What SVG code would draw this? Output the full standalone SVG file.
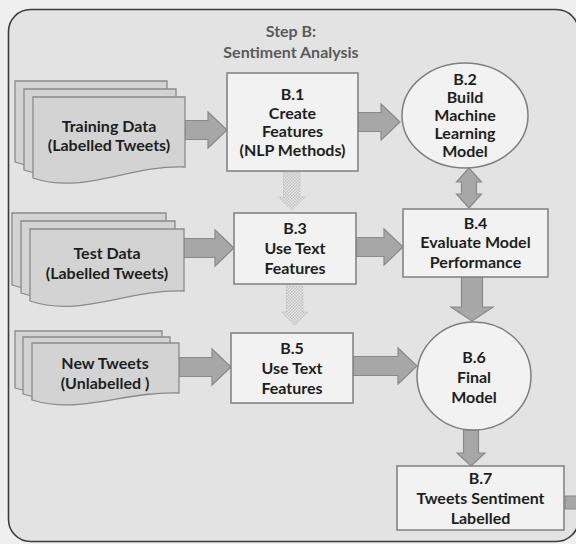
<svg xmlns="http://www.w3.org/2000/svg" width="576" height="544" viewBox="0 0 576 544">
  <defs>
    <style>
      .txt { font-family: Lato, "Liberation Sans", "DejaVu Sans", sans-serif; font-weight: bold; font-size: 16px; fill: #1e1e1e; text-anchor: middle; }
      .title { font-family: Lato, "Liberation Sans", "DejaVu Sans", sans-serif; font-weight: bold; font-size: 16px; fill: #5a5a5a; text-anchor: middle; }
      .box { fill: #f2f2f2; stroke: #7f7f7f; stroke-width: 1.5; }
      .doc { fill: #d3d3d3; stroke: #8a8a8a; stroke-width: 1.3; }
      .arrow { fill: #a7a7a7; stroke: #8a8a8a; stroke-width: 1.2; }
      .dotarrow { fill: url(#mesh); stroke: #c4c4c4; stroke-width: 1; stroke-dasharray: 1.5 1; }
    </style>
    <!-- fine checker fill for the dotted flow arrows -->
    <pattern id="mesh" width="3" height="3" patternUnits="userSpaceOnUse">
      <rect width="3" height="3" fill="#e6e6e6"/>
      <rect x="0" y="0" width="1.5" height="1.5" fill="#c2c2c2"/>
      <rect x="1.5" y="1.5" width="1.5" height="1.5" fill="#c2c2c2"/>
    </pattern>
  </defs>

  <!-- page background and outer frame -->
  <rect x="0" y="0" width="576" height="544" fill="#efefef"/>
  <rect x="8.5" y="9.5" width="570" height="532" rx="22" ry="22" fill="#e3e3e3" stroke="#3c3c3c" stroke-width="1.6"/>

  <!-- title -->
  <g id="title">
    <text class="title" x="291" y="37">Step B:</text>
    <text class="title" x="291" y="58">Sentiment Analysis</text>
  </g>

  <!-- connectors -->
  <g id="connectors">
    <path class="arrow" d="M185,120.5 H208 V112 L227,130 L208,148 V139.5 H185 Z"/>
    <path class="arrow" d="M358,112.5 H381 V104 L400,122 L381,140 V131.5 H358 Z"/>
    <path class="arrow" d="M469,168 L481.5,182 H476.5 V194 H481.5 L469,208 L456.5,194 H461.5 V182 H456.5 Z"/>
    <path class="dotarrow" d="M283.5,172 H300 V197 H305 L291.75,210 L278.5,197 H283.5 Z"/>
    <path class="arrow" d="M184,238.5 H215 V230 L234,248 L215,266 V257.5 H184 Z"/>
    <path class="arrow" d="M356,237.5 H384 V229 L403,247 L384,265 V256.5 H356 Z"/>
    <path class="dotarrow" d="M286.5,286 H303 V312 H308 L294.75,325 L281.5,312 H286.5 Z"/>
    <path class="arrow" d="M461.5,277 H482.5 V307 H493 L472,321 L451,307 H461.5 Z"/>
    <path class="arrow" d="M179,357.5 H212 V349 L231,367 L212,385 V376.5 H179 Z"/>
    <path class="arrow" d="M353,356.5 H398 V348 L417,366 L398,384 V375.5 H353 Z"/>
    <path class="arrow" d="M463.5,430 H478.5 V453 H485 L471,466 L457,453 H463.5 Z"/>
    <path class="arrow" d="M565,496 H580 V509 H565 Z"/>
  </g>

  <!-- input data stacks -->
  <g id="training-data">
    <path class="doc" d="M15,81 H167 V151 C110,149 65,179 15,162 Z"/>
    <path class="doc" d="M24,89 H176 V159 C119,157 74,187 24,170 Z"/>
    <path class="doc" d="M33,97 H185 V167 C128,165 83,195 33,178 Z"/>
    <text class="txt" x="109" y="132">Training Data</text>
    <text class="txt" x="109" y="151">(Labelled Tweets)</text>
  </g>

  <g id="test-data">
    <path class="doc" d="M12,213 H166 V275 C108,273 63,302 12,285 Z"/>
    <path class="doc" d="M21,221 H175 V283 C117,281 72,310 21,293 Z"/>
    <path class="doc" d="M30,229 H184 V291 C126,289 81,318 30,301 Z"/>
    <text class="txt" x="107" y="259">Test Data</text>
    <text class="txt" x="107" y="279">(Labelled Tweets)</text>
  </g>

  <g id="new-tweets">
    <path class="doc" d="M15,331 H162 V381 C107,379 63,403 15,388 Z"/>
    <path class="doc" d="M23,337 H170 V387 C115,385 71,409 23,394 Z"/>
    <path class="doc" d="M32,343 H179 V393 C124,391 81,415 32,400 Z"/>
    <text class="txt" x="105" y="369">New Tweets</text>
    <text class="txt" x="105" y="389">(Unlabelled )</text>
  </g>

  <!-- processing steps -->
  <g id="b1">
    <rect class="box" x="227" y="73" width="131" height="98"/>
    <text class="txt" x="292.5" y="100">B.1</text>
    <text class="txt" x="292.5" y="118.5">Create</text>
    <text class="txt" x="292.5" y="137">Features</text>
    <text class="txt" x="292.5" y="155.5">(NLP Methods)</text>
  </g>

  <g id="b2">
    <ellipse class="box" cx="465" cy="115.5" rx="63" ry="52.5"/>
    <text class="txt" x="465" y="85">B.2</text>
    <text class="txt" x="465" y="103">Build</text>
    <text class="txt" x="465" y="121">Machine</text>
    <text class="txt" x="465" y="139">Learning</text>
    <text class="txt" x="465" y="157">Model</text>
  </g>

  <g id="b3">
    <rect class="box" x="234" y="213" width="122" height="71"/>
    <text class="txt" x="295" y="234">B.3</text>
    <text class="txt" x="295" y="254">Use Text</text>
    <text class="txt" x="295" y="274">Features</text>
  </g>

  <g id="b4">
    <rect class="box" x="403" y="209" width="145" height="68"/>
    <text class="txt" x="475.5" y="228.5">B.4</text>
    <text class="txt" x="475.5" y="248">Evaluate Model</text>
    <text class="txt" x="475.5" y="267.5">Performance</text>
  </g>

  <g id="b5">
    <rect class="box" x="231" y="333" width="122" height="70"/>
    <text class="txt" x="292" y="354">B.5</text>
    <text class="txt" x="292" y="374">Use Text</text>
    <text class="txt" x="292" y="394">Features</text>
  </g>

  <g id="b6">
    <ellipse class="box" cx="474" cy="376" rx="57" ry="54"/>
    <text class="txt" x="474" y="363">B.6</text>
    <text class="txt" x="474" y="383">Final</text>
    <text class="txt" x="474" y="403">Model</text>
  </g>

  <g id="b7">
    <rect class="box" x="397" y="466" width="167" height="64"/>
    <text class="txt" x="480.5" y="484">B.7</text>
    <text class="txt" x="480.5" y="504">Tweets Sentiment</text>
    <text class="txt" x="480.5" y="524">Labelled</text>
  </g>
</svg>
